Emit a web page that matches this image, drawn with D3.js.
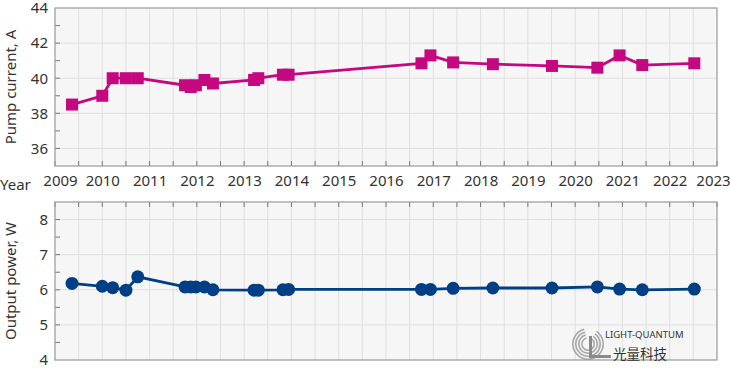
<!DOCTYPE html>
<html>
<head>
<meta charset="utf-8">
<script src="https://cdn.jsdelivr.net/npm/d3@7"></script>
<style>
  body { margin: 0; background: #fff; }
  text { font-family: "Noto Sans", "Open Sans", sans-serif; fill: #333; }
</style>
</head>
<body>
<script>
// measurement dates (decimal years), shared by both panels
var dates = [2009.36, 2010.0, 2010.22, 2010.5, 2010.75, 2011.75, 2011.87, 2011.98, 2012.16, 2012.34,
  2013.21, 2013.3, 2013.82, 2013.94, 2016.75, 2016.94, 2017.42, 2018.26, 2019.51, 2020.47, 2020.94, 2021.42, 2022.52];
var pumpCurrent = [38.5, 39.0, 40.0, 40.0, 40.0, 39.6, 39.5, 39.6, 39.9, 39.7,
  39.9, 40.0, 40.2, 40.2, 40.85, 41.3, 40.9, 40.8, 40.7, 40.6, 41.3, 40.75, 40.85];
var outputPower = [6.18, 6.1, 6.06, 5.99, 6.37, 6.08, 6.08, 6.08, 6.08, 6.0,
  5.99, 5.99, 6.0, 6.01, 6.01, 6.01, 6.04, 6.05, 6.05, 6.08, 6.02, 6.0, 6.02];
var yearTicks = d3.range(2009, 2024);
var pumpTicks = [36, 38, 40, 42, 44];
var powerTicks = [4, 5, 6, 7, 8];

var W = 730, H = 370;
var left = 55, right = 717;
var svg = d3.select("body").append("svg").attr("width", W).attr("height", H);

var x = d3.scaleLinear().domain([2009, 2023]).range([left, right]);
var halfYears = d3.range(2009, 2023.01, 0.5);

function panel(opts) {
  var y = d3.scaleLinear().domain(opts.domain).range([opts.bottom, opts.top]);
  var g = svg.append("g");
  g.append("rect")
    .attr("x", left).attr("y", opts.top)
    .attr("width", right - left).attr("height", opts.bottom - opts.top)
    .attr("fill", "#f6f6f6");
  // grid
  g.selectAll("line.vg").data(halfYears.slice(1, -1)).enter().append("line")
    .attr("x1", function(d) { return x(d); }).attr("x2", function(d) { return x(d); })
    .attr("y1", opts.top).attr("y2", opts.bottom)
    .attr("stroke", "#dfdfdf").attr("stroke-width", 1);
  g.selectAll("line.hg").data(opts.grid).enter().append("line")
    .attr("x1", left).attr("x2", right)
    .attr("y1", function(d) { return y(d); }).attr("y2", function(d) { return y(d); })
    .attr("stroke", "#dfdfdf").attr("stroke-width", 1);
  // inward ticks on the time edge
  g.selectAll("line.xt").data(halfYears).enter().append("line")
    .attr("x1", function(d) { return x(d); }).attr("x2", function(d) { return x(d); })
    .attr("y1", opts.tickEdge).attr("y2", opts.tickEdge + opts.tickDir * 5)
    .attr("stroke", "#777");
  // inward ticks on the left edge
  g.selectAll("line.yt").data(opts.minor).enter().append("line")
    .attr("x1", left).attr("x2", left + 5)
    .attr("y1", function(d) { return y(d); }).attr("y2", function(d) { return y(d); })
    .attr("stroke", "#777");
  g.append("rect")
    .attr("x", left).attr("y", opts.top)
    .attr("width", right - left).attr("height", opts.bottom - opts.top)
    .attr("fill", "none").attr("stroke", "#999").attr("stroke-width", 1.2);

  var yAxis = d3.axisLeft(y).tickValues(opts.ticks).tickFormat(d3.format("d")).tickSize(0).tickPadding(7);
  var ya = g.append("g").attr("transform", "translate(" + left + ",0)").call(yAxis);
  ya.select(".domain").remove();
  ya.selectAll("text").style("font-size", "15px").attr("fill", "#333");

  g.append("text")
    .attr("transform", "translate(16," + ((opts.top + opts.bottom) / 2) + ") rotate(-90)")
    .attr("text-anchor", "middle")
    .style("font-size", "15px")
    .text(opts.title);

  var line = d3.line()
    .x(function(d) { return x(d[0]); })
    .y(function(d) { return y(d[1]); });
  var pts = d3.zip(dates, opts.values);
  g.append("path").datum(pts)
    .attr("d", line).attr("fill", "none")
    .attr("stroke", opts.color).attr("stroke-width", 2.8);
  return {g: g, y: y, pts: pts};
}

var pumpPanel = panel({
  domain: [35, 44], top: 8, bottom: 166, ticks: pumpTicks,
  grid: [36, 38, 40, 42], minor: d3.range(36, 44, 1),
  tickEdge: 166, tickDir: -1, title: "Pump current, A",
  values: pumpCurrent, color: "#c5087f"
});
pumpPanel.g.selectAll("rect.pt").data(pumpPanel.pts).enter().append("rect")
  .attr("x", function(d) { return x(d[0]) - 6; })
  .attr("y", function(d) { return pumpPanel.y(d[1]) - 6; })
  .attr("width", 12).attr("height", 12)
  .attr("fill", "#c5087f");

var powerPanel = panel({
  domain: [4, 8.5], top: 202, bottom: 360, ticks: powerTicks,
  grid: [5, 6, 7, 8], minor: d3.range(4.5, 8.5, 0.5),
  tickEdge: 202, tickDir: 1, title: "Output power, W",
  values: outputPower, color: "#003f86"
});
powerPanel.g.selectAll("circle.pt").data(powerPanel.pts).enter().append("circle")
  .attr("cx", function(d) { return x(d[0]); })
  .attr("cy", function(d) { return powerPanel.y(d[1]); })
  .attr("r", 6.5)
  .attr("fill", "#003f86");

// year labels between the panels
var xAxis = d3.axisBottom(x).tickValues(yearTicks).tickFormat(d3.format("d")).tickSize(0).tickPadding(0);
var xa = svg.append("g").attr("transform", "translate(0,175)").call(xAxis);
xa.select(".domain").remove();
xa.selectAll("text").style("font-size", "15px").attr("fill", "#333")
  .attr("dx", function(d) { return d === 2009 ? 5 : (d === 2023 ? -4 : 0); });
svg.append("text").attr("x", 0).attr("y", 190).style("font-size", "15px").text("Year");

// logo
var logo = svg.append("g").attr("transform", "translate(588,344)");
[16, 13, 10, 7].forEach(function(r) {
  logo.append("path")
    .attr("d", d3.arc()({innerRadius: r - 1.6, outerRadius: r, startAngle: 0.6, endAngle: 2 * Math.PI - 0.25}))
    .attr("fill", "#9a9a9a").attr("opacity", 0.85);
});
logo.append("rect").attr("x", 1).attr("y", -8).attr("width", 3).attr("height", 22).attr("fill", "#8a8a8a");
logo.append("rect").attr("x", 1).attr("y", 11).attr("width", 22).attr("height", 3).attr("fill", "#8a8a8a");
logo.append("text").attr("x", 17).attr("y", -6).style("font-size", "9.5px").attr("fill", "#666")
  .text("LIGHT-QUANTUM");
logo.append("text").attr("x", 25).attr("y", 15).style("font-size", "13.5px").attr("fill", "#777")
  .style("font-family", "'Noto Sans CJK SC', sans-serif")
  .text("光量科技");
</script>
</body>
</html>
